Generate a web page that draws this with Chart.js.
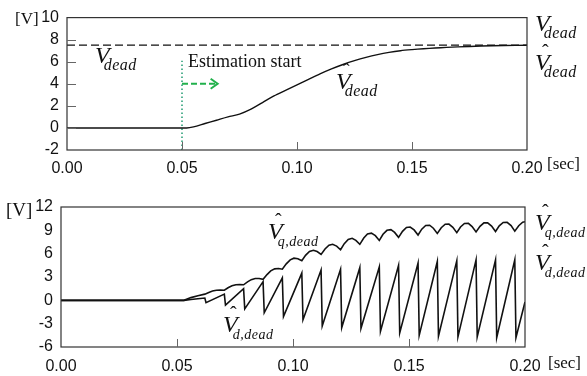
<!DOCTYPE html>
<html>
<head>
<meta charset="utf-8">
<script src="https://cdn.jsdelivr.net/npm/chart.js@4.4.1/dist/chart.umd.min.js"></script>
<style>
  body { margin: 0; background: #fff; }
  #wrap { position: relative; width: 587px; height: 376px; overflow: hidden; }
  canvas { position: absolute; left: 0; }
  .lbl { position: absolute; font-family: 'Liberation Serif', 'Times New Roman', serif; line-height: 1; white-space: nowrap; color: #111; }
  .v { font-style: italic; font-size: 24px; position: relative; }
  .hat::before { content: 'ˆ'; position: absolute; left: 7px; top: -7px; font-style: normal; font-size: 20px; }
  .s { font-style: italic; font-size: 16px; position: relative; top: 7px; margin-left: -6px; letter-spacing: 0.5px; }
  .s2 { font-style: italic; font-size: 14px; position: relative; top: 7px; margin-left: -5px; letter-spacing: 0.5px; }
  .unit { font-size: 17px; }
  .txt { font-size: 18px; }
</style>
</head>
<body>
<div id="wrap">
  <canvas id="topChart" width="587" height="185" style="top:0"></canvas>
  <canvas id="botChart" width="587" height="191" style="top:185px"></canvas>

  <div class="lbl unit" style="left:15px;top:10px">[V]</div>
  <div class="lbl unit" style="left:547px;top:155px">[sec]</div>
  <div class="lbl" style="left:95px;top:43px"><span class="v">V</span><span class="s">dead</span></div>
  <div class="lbl txt" style="left:188px;top:52px">Estimation start</div>
  <div class="lbl" style="left:336px;top:69px"><span class="v hat">V</span><span class="s">dead</span></div>
  <div class="lbl" style="left:535px;top:11px"><span class="v">V</span><span class="s">dead</span></div>
  <div class="lbl" style="left:535px;top:50px"><span class="v hat">V</span><span class="s">dead</span></div>

  <div class="lbl unit" style="left:6px;top:200px;font-size:19px">[V]</div>
  <div class="lbl unit" style="left:548px;top:354px">[sec]</div>
  <div class="lbl" style="left:268px;top:219px"><span class="v hat">V</span><span class="s2">q,dead</span></div>
  <div class="lbl" style="left:223px;top:312px"><span class="v hat">V</span><span class="s2">d,dead</span></div>
  <div class="lbl" style="left:535px;top:210px"><span class="v hat">V</span><span class="s2">q,dead</span></div>
  <div class="lbl" style="left:535px;top:250px"><span class="v hat">V</span><span class="s2">d,dead</span></div>
</div>
<script>
// time axis [sec]
const timeTicks = [0.00, 0.05, 0.10, 0.15, 0.20];
const topVoltTicks = [-2, 0, 2, 4, 6, 8, 10];
const botVoltTicks = [-6, -3, 0, 3, 6, 9, 12];

// true dead-time voltage and estimation start
const vDead = 7.5;
const estStart = 0.05;

// estimated dead-time voltage (upper plot)
const vHatTime = [0, 0.052, 0.055, 0.060, 0.065, 0.070, 0.075, 0.080, 0.085, 0.090, 0.095, 0.100,
  0.105, 0.110, 0.115, 0.120, 0.125, 0.130, 0.135, 0.140, 0.145, 0.150, 0.155, 0.160, 0.165,
  0.170, 0.180, 0.190, 0.200];
const vHatVolt = [0, 0, 0.1, 0.4, 0.7, 1.0, 1.25, 1.7, 2.3, 2.9, 3.4, 3.9,
  4.4, 4.9, 5.35, 5.75, 6.1, 6.4, 6.65, 6.85, 7.0, 7.1, 7.18, 7.24, 7.3,
  7.35, 7.42, 7.47, 7.5];

// q-axis estimate (lower plot)
const vqTime = [0, 0.053, 0.056, 0.059,
  0.0620, 0.0637, 0.0653, 0.0670, 0.0687,
  0.0704, 0.0720, 0.0737, 0.0754, 0.0770,
  0.0787, 0.0804, 0.0820, 0.0837, 0.0854,
  0.0871, 0.0888, 0.0904, 0.0921, 0.0938,
  0.0954, 0.0971, 0.0988, 0.1004, 0.1021,
  0.1038, 0.1054, 0.1071, 0.1088, 0.1104,
  0.1121, 0.1138, 0.1155, 0.1171, 0.1188,
  0.1205, 0.1221, 0.1238, 0.1255, 0.1271,
  0.1288, 0.1305, 0.1321, 0.1338, 0.1355,
  0.1372, 0.1388, 0.1405, 0.1422, 0.1438,
  0.1455, 0.1472, 0.1489, 0.1505, 0.1522,
  0.1539, 0.1555, 0.1572, 0.1589, 0.1605,
  0.1622, 0.1639, 0.1656, 0.1672, 0.1689,
  0.1706, 0.1722, 0.1739, 0.1756, 0.1772,
  0.1789, 0.1806, 0.1823, 0.1839, 0.1856,
  0.1873, 0.1889, 0.1906, 0.1923, 0.1940,
  0.1956, 0.1973, 0.1990, 0.2000];
const vqVolt = [0, 0, 0.35, 0.6,
  0.8, 1.02, 1.19, 1.29, 1.32,
  1.3, 1.62, 1.87, 2.01, 2.04,
  2.0, 2.38, 2.66, 2.80, 2.80,
  2.7, 3.31, 3.79, 4.05, 4.09,
  4.0, 4.69, 5.20, 5.42, 5.35,
  5.1, 5.79, 6.28, 6.44, 6.27,
  5.9, 6.61, 7.09, 7.21, 6.97,
  6.5, 7.29, 7.83, 7.97, 7.71,
  7.2, 8.01, 8.54, 8.64, 8.31,
  7.7, 8.49, 9.00, 9.08, 8.73,
  8.1, 8.87, 9.36, 9.42, 9.05,
  8.4, 9.15, 9.62, 9.66, 9.27,
  8.6, 9.33, 9.78, 9.80, 9.39,
  8.7, 9.43, 9.88, 9.90, 9.49,
  8.8, 9.52, 9.96, 9.97, 9.55,
  8.85, 9.57, 10.01, 10.02, 9.60,
  8.9, 9.6, 10.05, 10.1];

// d-axis estimate (lower plot), sawtooth
const vdTime = [0, 0.053, 0.056, 0.059,
  0.0620, 0.0625, 0.0704, 0.0709, 0.0787, 0.0792, 0.0871, 0.0876,
  0.0954, 0.0959, 0.1038, 0.1043, 0.1121, 0.1126, 0.1205, 0.1210,
  0.1288, 0.1293, 0.1372, 0.1377, 0.1455, 0.1460, 0.1539, 0.1544,
  0.1622, 0.1627, 0.1706, 0.1711, 0.1789, 0.1794, 0.1873, 0.1878,
  0.1956, 0.1961, 0.2000];
const vdVolt = [0, 0, 0.1, 0.2,
  0.3, -0.3, 0.8, -0.6, 1.5, -1.1, 2.4, -1.6,
  2.9, -2.1, 3.5, -2.5, 3.9, -3.3, 4.0, -3.5,
  4.2, -3.6, 4.3, -4.0, 4.5, -4.2, 4.8, -4.5,
  5.0, -4.6, 5.1, -4.7, 5.2, -4.7, 5.2, -4.8,
  5.2, -4.8, -0.2];

const pts = (xs, ys) => xs.map((x, i) => ({ x: x, y: ys[i] }));
const tickFont = { family: "'Liberation Sans', Arial, sans-serif", size: 16 };

// frame + inward tick marks (+ arrow head on the upper plot)
const framePlugin = {
  id: 'frame',
  afterDraw(chart, args, opts) {
    const { ctx, chartArea: a, scales } = chart;
    ctx.save();
    ctx.strokeStyle = '#333';
    ctx.lineWidth = 1.2;
    ctx.strokeRect(a.left, a.top, a.right - a.left, a.bottom - a.top);
    ctx.strokeStyle = '#666';
    ctx.lineWidth = 1;
    ctx.beginPath();
    timeTicks.slice(1, -1).forEach(t => {
      const x = Math.round(scales.x.getPixelForValue(t)) + 0.5;
      ctx.moveTo(x, a.bottom); ctx.lineTo(x, a.bottom - 8);
    });
    if (opts.yTicks) {
      opts.yTicks.forEach(v => {
        const y = Math.round(scales.y.getPixelForValue(v)) + 0.5;
        ctx.moveTo(a.left, y); ctx.lineTo(a.left + 9, y);
      });
    }
    ctx.stroke();
    if (opts.arrow) {
      const x = scales.x.getPixelForValue(opts.arrow.x);
      const y = scales.y.getPixelForValue(opts.arrow.y);
      ctx.strokeStyle = '#22b14c';
      ctx.lineWidth = 2;
      ctx.beginPath();
      ctx.moveTo(x - 7, y - 5); ctx.lineTo(x, y); ctx.lineTo(x - 7, y + 5);
      ctx.stroke();
    }
    ctx.restore();
  }
};

function xAxis(h, pad) {
  return {
    type: 'linear', min: 0, max: 0.2,
    afterBuildTicks: s => { s.ticks = timeTicks.map(v => ({ value: v })); },
    afterFit: s => { s.height = h; },
    grid: { display: false, drawTicks: false },
    border: { display: false },
    ticks: { font: tickFont, color: '#111', padding: pad, maxRotation: 0, autoSkip: false,
      callback: v => v.toFixed(2) }
  };
}
function yAxis(w, ticks) {
  return {
    min: ticks[0], max: ticks[ticks.length - 1],
    afterBuildTicks: s => { s.ticks = ticks.map(v => ({ value: v })); },
    afterFit: s => { s.width = w; },
    grid: { display: false, drawTicks: false },
    border: { display: false },
    ticks: { font: tickFont, color: '#111', padding: 8, autoSkip: false }
  };
}
const baseOpts = {
  responsive: false, animation: false, devicePixelRatio: 1,
  plugins: { legend: { display: false }, tooltip: { enabled: false } },
  elements: { point: { radius: 0 }, line: { tension: 0 } }
};

new Chart(document.getElementById('topChart'), {
  type: 'line',
  data: { datasets: [
    { data: pts([0, 0.2], [vDead, vDead]), borderColor: '#111', borderWidth: 1.3, borderDash: [8, 4] },
    { data: pts(vHatTime, vHatVolt), borderColor: '#111', borderWidth: 1.4, tension: 0.3 },
    { data: pts([estStart, estStart], [-2, 6.1]), borderColor: '#1f9a70', borderWidth: 1.5, borderDash: [1.5, 2.5] },
    { data: pts([estStart, 0.0655], [4, 4]), borderColor: '#22b14c', borderWidth: 2, borderDash: [6, 3] }
  ]},
  options: Object.assign({}, baseOpts, {
    layout: { padding: { left: 0, top: 13, right: 60, bottom: 0 } },
    scales: { x: xAxis(35, 9), y: yAxis(67, topVoltTicks) },
    plugins: Object.assign({}, baseOpts.plugins, {
      frame: { yTicks: [0, 2, 4, 6, 8], arrow: { x: 0.0655, y: 4 } }
    })
  }),
  plugins: [framePlugin]
});

new Chart(document.getElementById('botChart'), {
  type: 'line',
  data: { datasets: [
    { data: pts(vqTime, vqVolt), borderColor: '#111', borderWidth: 1.6 },
    { data: pts(vdTime, vdVolt), borderColor: '#111', borderWidth: 1.6 }
  ]},
  options: Object.assign({}, baseOpts, {
    layout: { padding: { left: 0, top: 22, right: 62, bottom: 0 } },
    scales: { x: xAxis(29, 10), y: yAxis(61, botVoltTicks) },
    plugins: Object.assign({}, baseOpts.plugins, { frame: {} })
  }),
  plugins: [framePlugin]
});
</script>
</body>
</html>
